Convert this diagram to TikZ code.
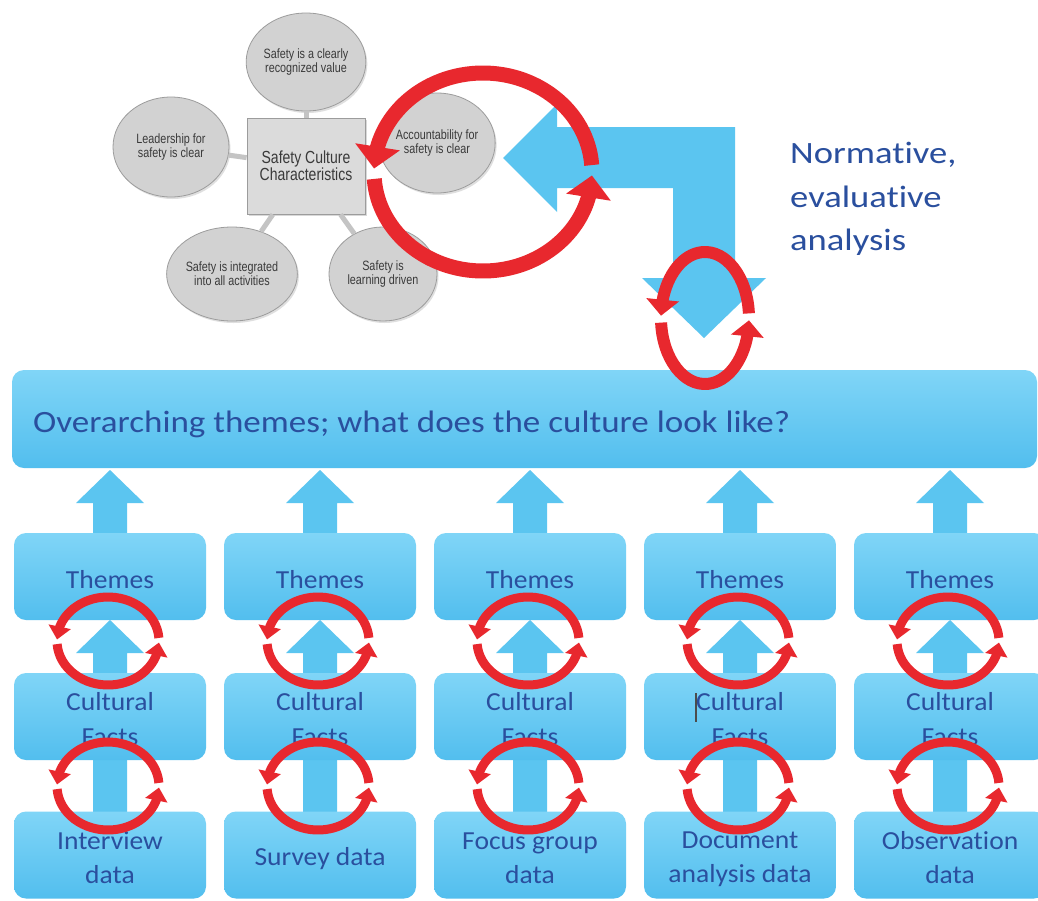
\documentclass[tikz,border=0pt]{standalone}
\usepackage{fontspec}
\setmainfont{Carlito}[Ligatures=NoCommon]
\newfontfamily\greyfont[FakeStretch=0.8]{Liberation Sans}
\newfontfamily\tilefont[FakeStretch=1.06,Ligatures=NoCommon]{Carlito}
\newfontfamily\widefont[FakeStretch=1.13,Ligatures=NoCommon]{Carlito}
\newfontfamily\notefont[FakeStretch=1.18,Ligatures=NoCommon]{Carlito}
\usetikzlibrary{arrows.meta,bending,shapes.geometric,shadows,backgrounds}

\definecolor{skyfill}{HTML}{5BC5F0}
\definecolor{skytop}{HTML}{80D5F7}
\definecolor{skybot}{HTML}{52BEEE}
\definecolor{inkblue}{HTML}{2A4F9E}
\definecolor{loopred}{HTML}{E8282E}
\definecolor{bubfill}{HTML}{D2D2D2}
\definecolor{bubline}{HTML}{9C9C9C}
\definecolor{bubtext}{HTML}{3A3A3A}

\tikzset{
  bubble/.style={ellipse, fill=bubfill, draw=bubline, line width=0.8pt, inner sep=0pt,
    align=center, text=bubtext, font=\greyfont\fontsize{13.5}{14}\selectfont,
    drop shadow={opacity=0.25, shadow xshift=1.5pt, shadow yshift=-2pt}},
  corebox/.style={rectangle, fill=bubfill!80!white, draw=bubline, line width=0.8pt,
    minimum width=118pt, minimum height=96pt, align=center, text=bubtext,
    font=\greyfont\fontsize{17.5}{17}\selectfont,
    drop shadow={opacity=0.3, shadow xshift=2pt, shadow yshift=-2pt}},
  spoke/.style={draw=bubline!60, line width=5pt},
  tile/.style={rectangle, rounded corners=12pt, top color=skytop, bottom color=skybot,
    minimum width=192pt, minimum height=87pt, inner sep=0pt},
  widebox/.style={tile, minimum width=1025pt, minimum height=98pt},
  tiletext/.style={anchor=base, inner sep=0pt, align=center, text=inkblue,
    font=\tilefont\fontsize{26}{34}\selectfont},
  blockblue/.style={fill=skyfill},
  loopsmall/.style={draw=loopred, line width=9pt, -{Triangle[width=22pt,length=13pt]}},
  loopmid/.style={draw=loopred, line width=12pt, -{Triangle[width=32pt,length=16pt]}},
  loopbig/.style={draw=loopred, line width=15pt, -{Triangle[width=44pt,length=22pt]}},
}

% block arrow pointing up: centre x, tip y, foot y
\newcommand{\blockup}[3]{%
  \fill[blockblue] (#1,#2) -- ++(34,33) -- ++(-17,0) -- (#1+17,#3)
    -- (#1-17,#3) -- (#1-17,#2+33) -- ++(-17,0) -- cycle;}
% pair of red arrows running round a centre: centre, x radius, y radius, style
\newcommand{\cyclearrows}[4]{%
  \draw[#4] (#1) ++(-4:#2 and #3) arc[start angle=-4, end angle=-178, x radius=#2, y radius=#3];
  \draw[#4] (#1) ++(176:#2 and #3) arc[start angle=176, end angle=2, x radius=#2, y radius=#3];}

\begin{document}
\begin{tikzpicture}[x=1pt,y=-1pt]
\useasboundingbox (0,0) rectangle (1038,900);
\begin{scope}[on background layer]
\fill[white] (0,0) rectangle (1038,900);
\end{scope}

% safety culture characteristics
\node[corebox] (core) at (306,166) {Safety Culture\\Characteristics};
\node[bubble, minimum width=112pt, minimum height=98pt] (value) at (306,62) {Safety is a clearly\\recognized value};
\node[bubble, minimum width=116pt, minimum height=100pt] (lead) at (171,147) {Leadership for\\safety is clear};
\node[bubble, minimum width=114pt, minimum height=100pt] (account) at (437,143) {Accountability for\\safety is clear};
\node[bubble, minimum width=110pt, minimum height=94pt] (integ) at (232,274) {Safety is integrated\\into all activities};
\node[bubble, minimum width=108pt, minimum height=94pt] (learn) at (383,274) {Safety is\\learning driven};
\draw[spoke] (core) -- (value);
\draw[spoke] (core) -- (lead);
\draw[spoke] (core) -- (account);
\draw[spoke] (core) -- (integ);
\draw[spoke] (core) -- (learn);

% elbow arrow from the characteristics down to the themes
\fill[blockblue] (503,158) -- (557,104) -- (557,127) -- (735,127) -- (735,278) -- (766,278)
  -- (704,338) -- (642,278) -- (673,278) -- (673,188) -- (557,188) -- (557,212) -- cycle;

\node[anchor=north west, inner sep=0pt, align=left, text=inkblue,
  font=\notefont\fontsize{31}{43.5}\selectfont] (norm) at (790,142) {Normative,\\evaluative\\analysis};

\cyclearrows{483,172}{109}{99}{loopbig}

% five sources of data (base of the last line is given)
\foreach \cx/\dat/\by [count=\i] in {110/{Interview\\data}/883, 320/{Survey data}/865,
    530/{Focus group\\data}/883, 740/{Document\\analysis data}/882, 950/{Observation\\data}/883} {
  \blockup{\cx}{470}{540}
  \blockup{\cx}{620}{680}
  \blockup{\cx}{725}{815}
  \node[tile] (th\i) at (\cx,576.5) {};
  \node[tile] (cf\i) at (\cx,716.5) {};
  \node[tile] (dt\i) at (\cx,855) {};
  \node[tiletext] (thtxt\i) at (\cx,588) {Themes};
  \node[tiletext] (cftxt\i) at (\cx,745) {Cultural\\[1pt]Facts};
  \node[tiletext] (dttxt\i) at (\cx,\by) {\dat};
}

\node[widebox] (over) at (524.5,419) {};
\node[anchor=base west, inner sep=0pt, text=inkblue, font=\widefont\fontsize{31}{36}\selectfont]
  (overtxt) at (33,432) {Overarching themes; what does the culture look like?};

\cyclearrows{705,318}{44}{66}{loopmid}

\foreach \cx in {108,318,528,738,948} {
  \cyclearrows{\cx,641}{51}{44}{loopsmall}
  \cyclearrows{\cx,786}{51}{44}{loopsmall}
}

% text cursor left in the fourth box
\draw[black!70, line width=1.5pt] (696,693) -- (696,722);
\end{tikzpicture}
\end{document}
